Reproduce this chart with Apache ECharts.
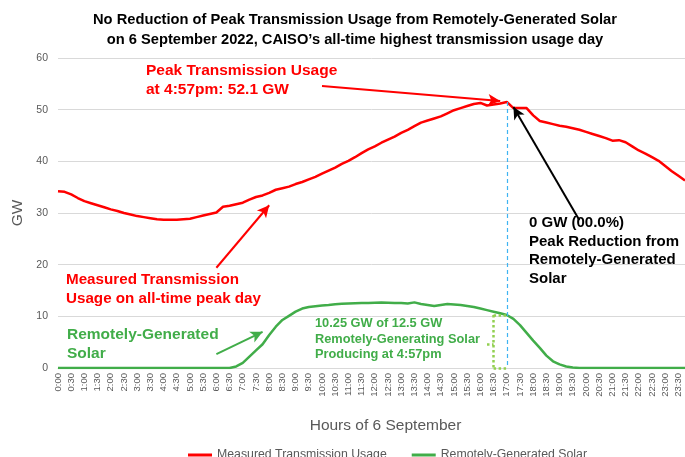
<!DOCTYPE html>
<html><head><meta charset="utf-8">
<script src="https://cdn.jsdelivr.net/npm/echarts@6/dist/echarts.min.js"></script>
<style>html,body{margin:0;padding:0;background:#fff;}#c{width:685px;height:457px;}</style>
</head><body><div id="c"></div>
<script>
var categories = [
"0:00","0:15","0:30","0:45","1:00","1:15","1:30","1:45","2:00","2:15","2:30","2:45",
"3:00","3:15","3:30","3:45","4:00","4:15","4:30","4:45","5:00","5:15","5:30","5:45",
"6:00","6:15","6:30","6:45","7:00","7:15","7:30","7:45","8:00","8:15","8:30","8:45",
"9:00","9:15","9:30","9:45","10:00","10:15","10:30","10:45","11:00","11:15","11:30","11:45",
"12:00","12:15","12:30","12:45","13:00","13:15","13:30","13:45","14:00","14:15","14:30","14:45",
"15:00","15:15","15:30","15:45","16:00","16:15","16:30","16:45","17:00","17:15","17:30","17:45",
"18:00","18:15","18:30","18:45","19:00","19:15","19:30","19:45","20:00","20:15","20:30","20:45",
"21:00","21:15","21:30","21:45","22:00","22:15","22:30","22:45","23:00","23:15","23:30","23:45"];

var transmissionUsage = [
34.2,34.1,33.6,32.9,32.3,31.9,31.5,31.1,30.7,30.4,30.0,29.7,
29.4,29.2,29.0,28.8,28.7,28.7,28.7,28.8,28.9,29.2,29.5,29.8,
30.1,31.2,31.4,31.7,32.0,32.6,33.1,33.4,33.9,34.5,34.8,35.1,
35.6,36.0,36.5,37.0,37.6,38.2,38.8,39.5,40.1,40.8,41.6,42.3,
42.9,43.6,44.2,44.8,45.5,46.1,46.8,47.5,47.9,48.3,48.7,49.3,
49.9,50.3,50.7,51.1,51.3,50.8,51.0,51.2,51.5,50.3,50.3,50.3,
48.9,47.8,47.5,47.2,46.9,46.7,46.4,46.1,45.7,45.3,44.9,44.5,
44.0,44.1,43.7,42.9,42.1,41.5,40.8,40.1,39.1,38.1,37.2,36.3];

var remoteSolar = [
0,0,0,0,0,0,0,0,0,0,0,0,
0,0,0,0,0,0,0,0,0,0,0,0,
0,0,0,0.3,1.0,2.2,3.4,4.6,6.4,8.0,9.3,10.1,
10.9,11.5,11.8,11.95,12.1,12.2,12.35,12.45,12.5,12.55,12.6,12.6,
12.65,12.7,12.65,12.6,12.6,12.5,12.7,12.4,12.2,12.0,12.2,12.4,
12.3,12.2,12.0,11.8,11.5,11.2,10.9,10.6,10.25,9.5,8.3,6.8,
5.3,3.9,2.4,1.3,0.7,0.3,0.1,0,0,0,0,0,
0,0,0,0,0,0,0,0,0,0,0,0];

var yTicks = {min:0, max:60, interval:10};
var peakIndex = 68;      // 17:00 category
var peakValue = 51.5;
var solarAtPeak = 10.25;

var FONT = '"Liberation Sans", Arial, sans-serif';
var RED = '#ff0000', GREEN = '#41ad49', LGREEN = '#92d050';

function arrow(a, b, color) {
  return [
    {coord: a, symbol: 'none', lineStyle: {color: color, width: 2, type: 'solid'}},
    {coord: b, symbol: 'arrow', symbolSize: [9, 12]}
  ];
}
function seg(a, b, style) {
  return [{coord: a, symbol: 'none', lineStyle: style}, {coord: b, symbol: 'none'}];
}
var dotted = {color: LGREEN, width: 2.5, type: 'dotted'};

var chart = echarts.init(document.getElementById('c'));
chart.setOption({
  animation: false,
  backgroundColor: '#fff',
  title: {
    text: 'No Reduction of Peak Transmission Usage from Remotely-Generated Solar\non 6 September 2022, CAISO\u2019s all-time highest transmission usage day',
    left: 350, top: 5, textAlign: 'center',
    textStyle: {fontFamily: FONT, fontSize: 14.7, fontWeight: 'bold', color: '#000', lineHeight: 20}
  },
  legend: {
    left: 183, top: 444, itemGap: 25, itemWidth: 24, itemHeight: 3, icon: 'rect',
    textStyle: {fontFamily: FONT, fontSize: 12.3, color: '#595959'},
    data: ['Measured Transmission Usage', 'Remotely-Generated Solar']
  },
  grid: {left: 58, right: 0, top: 58, bottom: 89, containLabel: false},
  xAxis: {
    type: 'category', data: categories, boundaryGap: false,
    name: 'Hours of 6 September', nameLocation: 'middle', nameGap: 50,
    nameTextStyle: {fontFamily: FONT, fontSize: 15.5, color: '#595959', padding: [0, 0, 0, 28]},
    axisLine: {lineStyle: {color: '#d9d9d9'}},
    axisTick: {show: false},
    axisLabel: {interval: 1, rotate: 90, fontFamily: FONT, fontSize: 9.5, color: '#595959', margin: 5},
    splitLine: {show: false}
  },
  yAxis: {
    type: 'value', min: yTicks.min, max: yTicks.max, interval: yTicks.interval,
    name: 'GW', nameLocation: 'middle', nameGap: 31,
    nameTextStyle: {fontFamily: FONT, fontSize: 15.5, color: '#595959'},
    axisLine: {show: false}, axisTick: {show: false},
    axisLabel: {fontFamily: FONT, fontSize: 10.5, color: '#595959', margin: 10},
    splitLine: {lineStyle: {color: '#d9d9d9', width: 1}}
  },
  series: [
    {
      name: 'Measured Transmission Usage', type: 'line', data: transmissionUsage,
      showSymbol: false, symbol: 'none', color: RED,
      lineStyle: {color: RED, width: 2.5}, z: 3,
      markLine: {
        silent: true, label: {show: false}, animation: false,
        data: [
          arrow([40, 54.6], [67, 51.7], RED),
          arrow([24.1, 19.4], [32.3, 31.5], RED),
          arrow([79.4, 28.6], [68.9, 50.5], '#000'),
          seg([peakIndex, peakValue], [peakIndex, 0], {color: '#3fb4f2', width: 1.2, type: [4, 3]})
        ]
      }
    },
    {
      name: 'Remotely-Generated Solar', type: 'line', data: remoteSolar,
      showSymbol: false, symbol: 'none', color: GREEN,
      lineStyle: {color: GREEN, width: 2.5}, z: 3,
      markLine: {
        silent: true, label: {show: false}, animation: false,
        data: [
          arrow([23.5, 2.7], [31.1, 7.0], GREEN),
          seg([66.1, solarAtPeak], [67.9, solarAtPeak], dotted),
          seg([66.1, solarAtPeak], [66.1, 0], dotted),
          seg([66.1, 0], [67.9, 0], dotted),
          seg([64.9, 4.6], [66.1, 4.6], dotted)
        ]
      }
    }
  ],
  graphic: [
    {type: 'text', left: 146, top: 61, z: 10, style: {text: 'Peak Transmission Usage\nat 4:57pm: 52.1 GW', fill: RED, fontFamily: FONT, fontSize: 15.5, fontWeight: 'bold', lineHeight: 19}},
    {type: 'text', left: 529, top: 214, z: 10, style: {text: '0 GW (00.0%)\nPeak Reduction from\nRemotely-Generated\nSolar', fill: '#000', fontFamily: FONT, fontSize: 15, fontWeight: 'bold', lineHeight: 18.4}},
    {type: 'text', left: 66, top: 271, z: 10, style: {text: 'Measured Transmission\nUsage on all-time peak day', fill: RED, fontFamily: FONT, fontSize: 15.2, fontWeight: 'bold', lineHeight: 18.4}},
    {type: 'text', left: 67, top: 326, z: 10, style: {text: 'Remotely-Generated\nSolar', fill: GREEN, fontFamily: FONT, fontSize: 15.5, fontWeight: 'bold', lineHeight: 18.4}},
    {type: 'text', left: 315, top: 316, z: 10, style: {text: '10.25 GW of 12.5 GW\nRemotely-Generating Solar\nProducing at 4:57pm', fill: GREEN, fontFamily: FONT, fontSize: 12.8, fontWeight: 'bold', lineHeight: 15.5}}
  ]
});
</script></body></html>
